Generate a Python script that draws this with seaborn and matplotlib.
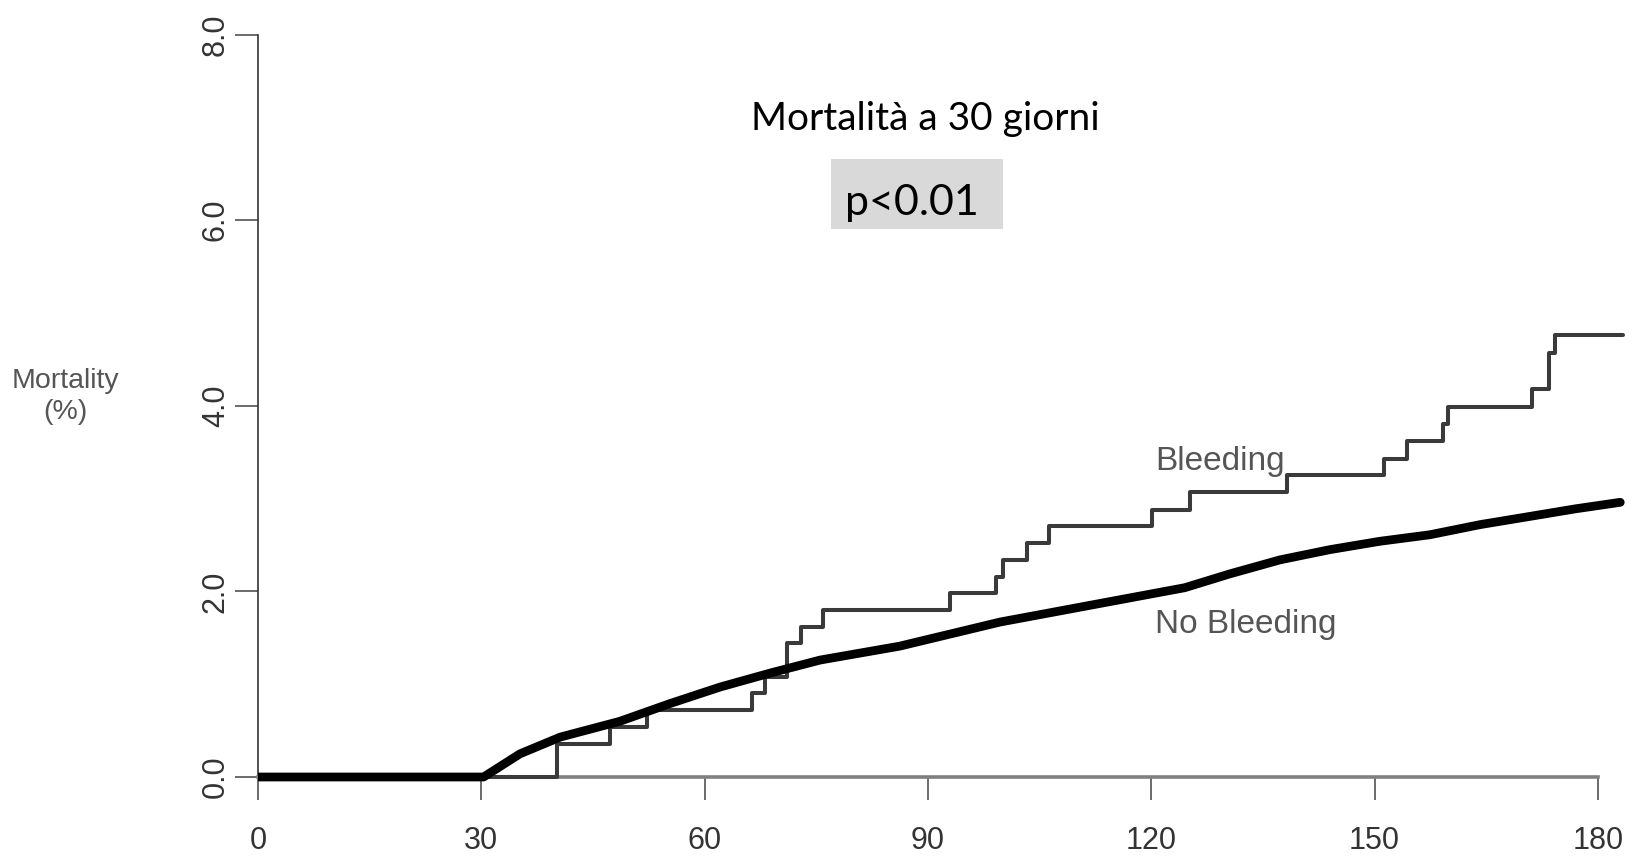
import matplotlib
matplotlib.use("Agg")
import matplotlib.pyplot as plt
import seaborn as sns
import pandas as pd
from matplotlib.patches import Rectangle

# ---- data ----
bleed_days = [0, 40.1, 47.3, 52.2, 66.3, 68.1, 71.0, 73.0, 75.9, 93.0, 99.2, 100.1,
              103.3, 106.2, 120.1, 125.2, 138.2, 151.2, 154.3, 159.2, 159.9, 171.1,
              173.4, 174.3, 183.4]
bleed_mort = [0, 0.36, 0.54, 0.72, 0.90, 1.08, 1.44, 1.62, 1.80, 1.98, 2.16, 2.34,
              2.52, 2.70, 2.88, 3.07, 3.25, 3.43, 3.62, 3.80, 3.99, 4.18,
              4.57, 4.76, 4.76]

nobleed_days = [0, 30.3, 35.2, 40.6, 48.6, 55.3, 62.1, 68.8, 75.5, 86.2, 99.7, 113.1,
                124.5, 130.6, 137.3, 144.0, 150.7, 157.4, 164.2, 171.0, 177.0, 183.0]
nobleed_mort = [0, 0, 0.25, 0.43, 0.60, 0.79, 0.97, 1.12, 1.26, 1.41, 1.67, 1.87,
                2.04, 2.19, 2.34, 2.45, 2.54, 2.61, 2.72, 2.81, 2.89, 2.96]

x_ticks = [0, 30, 60, 90, 120, 150, 180]
y_ticks = [0.0, 2.0, 4.0, 6.0, 8.0]
y_tick_labels = ["0.0", "2.0", "4.0", "6.0", "8.0"]

title_text = "Mortalità a 30 giorni"
pvalue_text = "p<0.01"
ylabel_text = "Mortality\n(%)"
label_bleed = "Bleeding"
label_nobleed = "No Bleeding"

# ---- style ----
sns.set_style("white")
plt.rcParams["font.family"] = ["Liberation Sans", "DejaVu Sans"]

W, H = 1639, 860
fig = plt.figure(figsize=(W / 100, H / 100), dpi=100)

x0_px, px_per_day = 258, 7.444
y0_px, px_per_unit = 777, 92.8
xlim = (0, 185)
ylim = (-0.3, 8.1)
left = x0_px / W
width = (xlim[1] - xlim[0]) * px_per_day / W
bottom = 1 - (y0_px - ylim[0] * px_per_unit) / H
height = (ylim[1] - ylim[0]) * px_per_unit / H
ax = fig.add_axes([left, bottom, width, height])

df_b = pd.DataFrame({"day": bleed_days, "mort": bleed_mort})
df_n = pd.DataFrame({"day": nobleed_days, "mort": nobleed_mort})

sns.lineplot(data=df_n, x="day", y="mort", ax=ax, color="black", lw=6.3,
             estimator=None, sort=False, solid_capstyle="round", zorder=4)
sns.lineplot(data=df_b, x="day", y="mort", ax=ax, color="#3a3a3a", lw=2.9,
             drawstyle="steps-post", estimator=None, sort=False, zorder=3)

ax.set_xlim(*xlim)
ax.set_ylim(*ylim)
ax.set_xlabel("")
ax.set_ylabel("")

for s in ["top", "right"]:
    ax.spines[s].set_visible(False)
ax.spines["left"].set_bounds(0, 8)
ax.spines["left"].set_color("#333333")
ax.spines["left"].set_linewidth(1.2)
ax.spines["bottom"].set_position(("data", 0))
ax.spines["bottom"].set_bounds(0, 180)
ax.spines["bottom"].set_color("#808080")
ax.spines["bottom"].set_linewidth(2.6)

ax.set_xticks(x_ticks)
ax.set_xticklabels([str(v) for v in x_ticks])
ax.set_yticks(y_ticks)
ax.set_yticklabels(y_tick_labels, rotation=90, va="center")
ax.tick_params(axis="x", bottom=True, direction="out", length=16.6, width=1.1,
               color="#444444", pad=19, labelsize=22, labelcolor="#333333")
ax.tick_params(axis="y", left=True, direction="out", length=16.6, width=1.1,
               color="#444444", pad=3, labelsize=22, labelcolor="#333333")

# curve labels
ax.text(120.5, 3.31, label_bleed, fontsize=24, color="#555555", va="baseline", ha="left")
ax.text(120.5, 1.55, label_nobleed, fontsize=24, color="#555555", va="baseline", ha="left")

# y label
fig.text(65 / W, 1 - 396 / H, ylabel_text, fontsize=20.5, color="#555555",
         ha="center", va="center", linespacing=1.25)

# title
fig.text(925 / W, 1 - 130 / H, title_text, fontsize=28, color="black",
         ha="center", va="baseline", family=["Lato", "DejaVu Sans"])

# p-value box
fig.patches.append(Rectangle((831 / W, 1 - 229 / H), (1003 - 831) / W, (229 - 159) / H,
                             transform=fig.transFigure, facecolor="#d9d9d9",
                             edgecolor="none", zorder=0))
fig.text(912 / W, 1 - 215 / H, pvalue_text, fontsize=31, color="black",
         ha="center", va="baseline", family=["Lato", "DejaVu Sans"])

fig.savefig("out.png", dpi=100)
